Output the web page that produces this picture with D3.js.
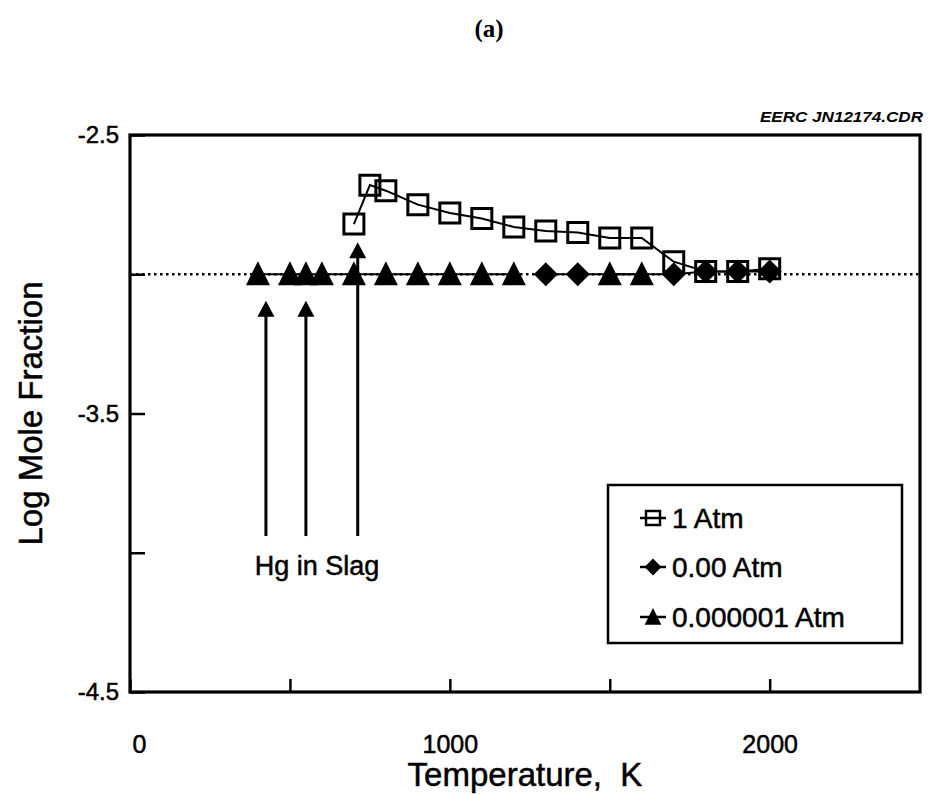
<!DOCTYPE html>
<html>
<head>
<meta charset="utf-8">
<script src="https://cdn.jsdelivr.net/npm/d3@7"></script>
<style>
  html, body { margin: 0; padding: 0; background: #fff; }
  svg { display: block; }
  text { font-family: "Liberation Sans", Arial, Helvetica, sans-serif; fill: #000; stroke: #000; stroke-width: 0.5px; }
</style>
</head>
<body>
<svg id="chart" width="928" height="794"></svg>
<script>
// Hg equilibrium: log mole fraction versus temperature at three pressures
const tempsAtm1 = [700, 750, 800, 900, 1000, 1100, 1200, 1300, 1400, 1500, 1600, 1700, 1800, 1900, 2000];
const logAtm1   = [-2.82, -2.68, -2.70, -2.75, -2.78, -2.80, -2.83, -2.845, -2.85, -2.87, -2.87, -2.955, -2.99, -2.99, -2.98];

const tempsAtm000 = [1300, 1400, 1700, 1800, 1900, 2000];
const logAtm000   = [-3.0, -3.0, -3.0, -2.99, -2.99, -2.99];

const tempsAtmMicro = [400, 500, 550, 600, 700, 800, 900, 1000, 1100, 1200, 1500, 1600];
const logAtmMicro   = [-3.0, -3.0, -3.0, -3.0, -3.0, -3.0, -3.0, -3.0, -3.0, -3.0, -3.0, -3.0];

const referenceLog = -3.0;

// "Hg in Slag" arrows: temperature, arrow tip and tail (log mole fraction)
const slagTemps = [425, 550, 712];
const slagTips  = [-3.095, -3.095, -2.885];
const slagTail  = -3.94;

const xTicks = [0, 500, 1000, 1500, 2000];
const xLabels = [0, 1000, 2000];
const yTicks = [-2.5, -3.0, -3.5, -4.0, -4.5];
const yLabels = [-2.5, -3.5, -4.5];

const legendLabels = ["1 Atm", "0.00 Atm", "0.000001 Atm"];

const svg = d3.select("#chart");
const plotL = 130, plotR = 920, plotT = 135, plotB = 692;

const x = d3.scaleLinear().domain([0, 2470]).range([plotL, plotR]);
const y = d3.scaleLinear().domain([-4.5, -2.5]).range([plotB, plotT]);

// Title and file tag
svg.append("text").attr("x", 489).attr("y", 37).attr("text-anchor", "middle")
  .style("font-family", '"Liberation Serif", "Times New Roman", serif')
  .style("font-weight", "bold").style("font-size", "25px").style("stroke-width", "0").text("(a)");
svg.append("text").attr("x", 923).attr("y", 122).attr("text-anchor", "end")
  .attr("textLength", 163).attr("lengthAdjust", "spacingAndGlyphs")
  .style("font-weight", "bold").style("font-style", "italic").style("font-size", "15px")
  .style("stroke-width", "0").text("EERC JN12174.CDR");

// Axes with inward ticks
const xAxis = d3.axisBottom(x).tickValues(xTicks).tickSizeInner(-13).tickSizeOuter(0)
  .tickPadding(43).tickFormat(d => xLabels.includes(d) ? String(d) : "");
const gx = svg.append("g").attr("transform", `translate(0,${plotB})`).call(xAxis);
gx.select(".domain").remove();
gx.selectAll(".tick line").attr("stroke", "#000").attr("stroke-width", 2.5);
gx.selectAll(".tick text").style("font-size", "25px").style("font-family", '"Liberation Sans", Arial, sans-serif')
  .attr("dx", d => d === 0 ? 9 : 0);

const yAxis = d3.axisLeft(y).tickValues(yTicks).tickSizeInner(-15).tickSizeOuter(0)
  .tickPadding(11).tickFormat(d => yLabels.includes(d) ? d.toFixed(1) : "");
const gy = svg.append("g").attr("transform", `translate(${plotL},0)`).call(yAxis);
gy.select(".domain").remove();
gy.selectAll(".tick line").attr("stroke", "#000").attr("stroke-width", 2.5);
gy.selectAll(".tick text").style("font-size", "24px").style("font-family", '"Liberation Sans", Arial, sans-serif');

// Plot frame
svg.append("rect").attr("x", plotL).attr("y", plotT).attr("width", plotR - plotL).attr("height", plotB - plotT)
  .attr("fill", "none").attr("stroke", "#000").attr("stroke-width", 3.2);

// Axis titles
svg.append("text").attr("transform", `translate(42,${(plotT + plotB) / 2}) rotate(-90)`)
  .attr("text-anchor", "middle").style("font-size", "33px").text("Log Mole Fraction");
svg.append("text").attr("x", (plotL + plotR) / 2).attr("y", 786).attr("text-anchor", "middle")
  .style("font-size", "33px").style("white-space", "pre").text("Temperature,  K");

// Dotted reference level
svg.append("line").attr("x1", plotL).attr("x2", plotR).attr("y1", y(referenceLog)).attr("y2", y(referenceLog))
  .attr("stroke", "#000").attr("stroke-width", 2.5).attr("stroke-dasharray", "2.5,3.5");

const line = d3.line().x(d => x(d[0])).y(d => y(d[1]));

// Split a series into runs of neighbouring temperatures
function segments(ts, vs, maxGap) {
  const out = []; let cur = [];
  ts.forEach((t, i) => {
    if (cur.length && t - cur[cur.length - 1][0] > maxGap) { out.push(cur); cur = []; }
    cur.push([t, vs[i]]);
  });
  if (cur.length) out.push(cur);
  return out;
}

const lineStyle = sel => sel.attr("fill", "none").attr("stroke", "#000").attr("stroke-width", 2);

segments(tempsAtmMicro, logAtmMicro, 150).forEach(seg => {
  svg.append("path").attr("d", line(seg)).call(lineStyle);
});
svg.append("path").attr("d", line(tempsAtm000.map((t, i) => [t, logAtm000[i]]))).call(lineStyle);
svg.append("path").attr("d", line(tempsAtm1.map((t, i) => [t, logAtm1[i]]))).call(lineStyle);

// Marker shapes
const triPath = "M0,-13L12,11L-12,11Z";
const diaPath = "M0,-12L12,0L0,12L-12,0Z";
const sqPath = "M-10,-10H10V10H-10Z";

// Arrows marking Hg in slag
slagTemps.forEach((t, i) => {
  const ax = x(t), tip = y(slagTips[i]);
  svg.append("line").attr("x1", ax).attr("x2", ax).attr("y1", y(slagTail)).attr("y2", tip + 10)
    .attr("stroke", "#000").attr("stroke-width", 3);
  svg.append("path").attr("d", `M${ax},${tip}L${ax + 8.5},${tip + 16}L${ax - 8.5},${tip + 16}Z`).attr("fill", "#000");
});
svg.append("text").attr("x", 317).attr("y", 575).attr("text-anchor", "middle")
  .style("font-size", "27px").text("Hg in Slag");

svg.append("g").selectAll("path").data(tempsAtmMicro).join("path")
  .attr("transform", (t, i) => `translate(${x(t)},${y(logAtmMicro[i])})`).attr("d", triPath).attr("fill", "#000");
svg.append("g").selectAll("path").data(tempsAtm000).join("path")
  .attr("transform", (t, i) => `translate(${x(t)},${y(logAtm000[i])})`).attr("d", diaPath).attr("fill", "#000");
svg.append("g").selectAll("path").data(tempsAtm1).join("path")
  .attr("transform", (t, i) => `translate(${x(t)},${y(logAtm1[i])})`).attr("d", sqPath)
  .attr("fill", "none").attr("stroke", "#000").attr("stroke-width", 3);

// Legend
const lg = svg.append("g");
lg.append("rect").attr("x", 608).attr("y", 485).attr("width", 294).attr("height", 158)
  .attr("fill", "#fff").attr("stroke", "#000").attr("stroke-width", 2.5);
const legendShapes = [
  { d: sqPath, fill: "none", stroke: 3.5 },
  { d: diaPath, fill: "#000", stroke: 0 },
  { d: triPath, fill: "#000", stroke: 0 }
];
const rowY = [518, 567, 617];
legendLabels.forEach((lab, i) => {
  const cx = 653, cy = rowY[i];
  lg.append("line").attr("x1", cx - 13).attr("x2", cx + 13).attr("y1", cy).attr("y2", cy)
    .attr("stroke", "#000").attr("stroke-width", 2.5);
  const s = legendShapes[i];
  lg.append("path").attr("d", s.d).attr("transform", `translate(${cx},${cy}) scale(0.7)`)
    .attr("fill", s.fill).attr("stroke", s.stroke ? "#000" : "none").attr("stroke-width", s.stroke);
  lg.append("text").attr("x", 672).attr("y", cy + 10).style("font-size", "28px").text(lab);
});
</script>
</body>
</html>
